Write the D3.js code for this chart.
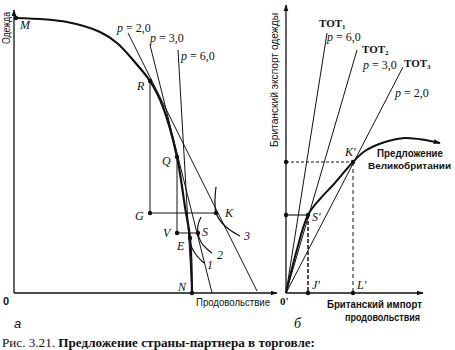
<!DOCTYPE html>
<html lang="ru">
<head>
<meta charset="UTF-8">
<title>Рис. 3.21. Предложение страны-партнера в торговле</title>
<style>
  body { margin: 0; background: #fff; }
  svg text { fill: #111; }
  .pt { font-family: "Liberation Serif", serif; font-style: italic; font-size: 12px; }
  .ax { font-family: "Liberation Sans", Arial, sans-serif; font-size: 10px; }
  .pl { font-family: "Liberation Serif", serif; font-size: 12px; }
</style>
</head>
<body>
<svg width="455" height="350"></svg>
<script src="https://cdn.jsdelivr.net/npm/d3@7/dist/d3.min.js"></script>
<script>
// ---- panel a (units: food along x, clothing along y) ----
var ppf = [[0.2,27.5],[5.3,27.1],[8.6,26.1],[10.3,25.0],[11.9,23.3],[13.6,21.2],
           [14.9,18.6],[16.3,13.6],[17.1,8.6],[17.6,5.5],[17.8,0]];
var priceLines = [
  {p: "2,0", from: [11.4, 26.0], to: [24.3, 0.2]},
  {p: "3,0", from: [13.6, 24.8], to: [19.8, 0]},
  {p: "6,0", from: [16.4, 24.3], to: [17.8, 0]}
];
var pointsA = [
  {name: "M", x: 0.2, y: 27.5}, {name: "R", x: 13.6, y: 21.2}, {name: "Q", x: 16.3, y: 13.6},
  {name: "G", x: 13.6, y: 8.0}, {name: "K", x: 20.2, y: 8.0}, {name: "V", x: 16.3, y: 6.0},
  {name: "S", x: 18.4, y: 6.0}, {name: "E", x: 17.6, y: 5.5}, {name: "N", x: 17.8, y: 0}
];
var indiff = [
  {name: "1", pts: [[17.5,5.5],[17.8,4.5],[18.3,3.7],[19.0,3.0]]},
  {name: "2", pts: [[18.7,7.6],[18.4,6.8],[18.4,6.0],[18.7,5.1],[19.3,4.4],[19.8,4.0]]},
  {name: "3", pts: [[20.2,10.6],[20.1,9.3],[20.2,8.0],[20.8,7.0],[21.6,6.3],[22.6,5.7]]}
];

// ---- panel б (units: British food imports along x, clothing exports along y) ----
var totLines = [
  {sub: "1", p: "6,0", end: [4.1, 26.0]},
  {sub: "2", p: "3,0", end: [7.1, 24.3]},
  {sub: "3", p: "2,0", end: [11.7, 22.6]}
];
var offer = [[0,0],[1.0,4.0],[2.2,7.8],[3.4,9.4],[4.8,10.9],[6.7,13.1],[7.9,14.2],
             [9.9,15.1],[11.9,15.5],[13.9,15.3],[15.4,15.0]];
var pointsB = [
  {name: "S'", x: 2.2, y: 7.8}, {name: "K'", x: 6.7, y: 13.1},
  {name: "J'", x: 2.2, y: 0}, {name: "L'", x: 6.7, y: 0}
];

var svg = d3.select("svg");

svg.append("defs").append("marker")
    .attr("id", "arr").attr("viewBox", "0 0 10 10")
    .attr("refX", 9).attr("refY", 5)
    .attr("markerWidth", 7).attr("markerHeight", 7)
    .attr("markerUnits", "userSpaceOnUse")
    .attr("orient", "auto")
  .append("path").attr("d", "M0,1.5L10,5L0,8.5Z").attr("fill", "#111");

// scales, 10 px per unit
var xA = d3.scaleLinear().domain([0, 26.3]).range([14, 277]);
var yA = d3.scaleLinear().domain([0, 28.3]).range([293, 10]);
var xB = d3.scaleLinear().domain([0, 13.7]).range([286, 423]);
var yB = d3.scaleLinear().domain([0, 28.8]).range([293, 5]);

var gA = svg.append("g"), gB = svg.append("g");
var stroke = "#111";

function seg(g, x1, y1, x2, y2, w, dash) {
  return g.append("line").attr("x1", x1).attr("y1", y1).attr("x2", x2).attr("y2", y2)
    .attr("stroke", stroke).attr("stroke-width", w || 1)
    .attr("stroke-dasharray", dash || null);
}
// squeeze sans labels to the narrow width they have in the book
function label(g, txt, x, y, len, bold) {
  return g.append("text").attr("class", "ax").attr("x", x).attr("y", y)
    .attr("textLength", len).attr("lengthAdjust", "spacingAndGlyphs")
    .style("font-weight", bold ? "bold" : null).text(txt);
}

// ---- axes a ----
seg(gA, xA(0), yA(0), xA(0), yA(28.3), 1.3).attr("marker-end", "url(#arr)");
seg(gA, xA(0), yA(0), xA(26.3), yA(0), 1.3).attr("marker-end", "url(#arr)");
label(gA, "Одежда", -44, 10, 32).attr("transform", "rotate(-90)");
label(gA, "Продовольствие", 196, 306, 74);
gA.append("text").attr("x", 3).attr("y", 305)
  .style("font", "bold 11px 'Liberation Sans', Arial, sans-serif").text("0");

// price lines
var pOff = {"2,0": [-11, -1], "3,0": [0, -3], "6,0": [3, 10]};
priceLines.forEach(function(d) {
  seg(gA, xA(d.from[0]), yA(d.from[1]), xA(d.to[0]), yA(d.to[1]), 1);
  var t = gA.append("text").attr("class", "pl")
    .attr("x", xA(d.from[0]) + pOff[d.p][0]).attr("y", yA(d.from[1]) + pOff[d.p][1]);
  t.append("tspan").style("font-style", "italic").text("p");
  t.append("tspan").text(" = " + d.p);
});

// trade triangles
var P = {};
pointsA.forEach(function(d) { P[d.name] = d; });
seg(gA, xA(P.R.x), yA(P.R.y), xA(P.G.x), yA(P.G.y), 1);
seg(gA, xA(P.G.x), yA(P.G.y), xA(P.K.x), yA(P.K.y), 1);
seg(gA, xA(P.Q.x), yA(P.Q.y), xA(P.V.x), yA(P.V.y), 1);
seg(gA, xA(P.V.x), yA(P.V.y), xA(P.S.x), yA(P.S.y), 1);

// indifference curves
var lineA = d3.line().x(function(d) { return xA(d[0]); }).y(function(d) { return yA(d[1]); })
  .curve(d3.curveCatmullRom.alpha(0.5));
var icOff = {"1": [3, 6], "2": [5, 6], "3": [4, 4]};
indiff.forEach(function(c) {
  gA.append("path").attr("d", lineA(c.pts)).attr("fill", "none")
    .attr("stroke", stroke).attr("stroke-width", 1.2);
  var last = c.pts[c.pts.length - 1];
  gA.append("text").attr("class", "pt")
    .attr("x", xA(last[0]) + icOff[c.name][0]).attr("y", yA(last[1]) + icOff[c.name][1]).text(c.name);
});

// production possibility frontier
gA.append("path").attr("d", lineA(ppf)).attr("fill", "none")
  .attr("stroke", stroke).attr("stroke-width", 2.2);

var ptOff = {M: [4, 11], R: [-13, 9], Q: [-15, 8], G: [-15, 7], K: [9, 4], V: [-14, 4],
             S: [4, 3], E: [-13, 12], N: [-14, -2]};
gA.selectAll("circle").data(pointsA).enter().append("circle")
  .attr("cx", function(d) { return xA(d.x); }).attr("cy", function(d) { return yA(d.y); })
  .attr("r", 2.2).attr("fill", stroke);
gA.selectAll("text.lbl").data(pointsA).enter().append("text").attr("class", "pt lbl")
  .attr("x", function(d) { return xA(d.x) + ptOff[d.name][0]; })
  .attr("y", function(d) { return yA(d.y) + ptOff[d.name][1]; })
  .text(function(d) { return d.name; });

// ---- axes б ----
seg(gB, xB(0), yB(0), xB(0), yB(28.8), 1.3).attr("marker-end", "url(#arr)");
seg(gB, xB(0), yB(0), xB(13.7), yB(0), 1.3).attr("marker-end", "url(#arr)");
label(gB, "Британский экспорт одежды", -147, 278, 134).attr("transform", "rotate(-90)");
label(gB, "Британский импорт", 327, 308, 95, true);
label(gB, "продовольствия", 345, 321, 75, true);
gB.append("text").attr("class", "pt").attr("x", 280).attr("y", 305)
  .style("font-style", "normal").style("font-weight", "bold").style("font-size", "11px").text("0'");

// terms of trade lines
var tOff = [[[-8, -6], [0, 8]], [[5, 3], [6, 19]], [[1, 0], [-8, 30]]];
totLines.forEach(function(d, i) {
  seg(gB, xB(0), yB(0), xB(d.end[0]), yB(d.end[1]), 1);
  var ex = xB(d.end[0]), ey = yB(d.end[1]);
  var t = gB.append("text").attr("class", "pl").style("font-weight", "bold").style("font-size", "11px")
    .attr("x", ex + tOff[i][0][0]).attr("y", ey + tOff[i][0][1]);
  t.append("tspan").text("ТОТ");
  t.append("tspan").attr("dy", 2).style("font-size", "7px").text(d.sub);
  var q = gB.append("text").attr("class", "pl")
    .attr("x", ex + tOff[i][1][0]).attr("y", ey + tOff[i][1][1]);
  q.append("tspan").style("font-style", "italic").text("p");
  q.append("tspan").text(" = " + d.p);
});

// guide lines
var Q = {};
pointsB.forEach(function(d) { Q[d.name] = d; });
seg(gB, xB(0), yB(Q["K'"].y), xB(Q["K'"].x), yB(Q["K'"].y), 1, "3,2");
seg(gB, xB(0), yB(Q["S'"].y), xB(Q["S'"].x), yB(Q["S'"].y), 1.1);
seg(gB, xB(Q["K'"].x), yB(Q["K'"].y), xB(Q["L'"].x), yB(0), 1, "4,3");
seg(gB, xB(Q["S'"].x), yB(Q["S'"].y), xB(Q["J'"].x), yB(0), 1.5, "4,2");

// British offer curve
var lineB = d3.line().x(function(d) { return xB(d[0]); }).y(function(d) { return yB(d[1]); })
  .curve(d3.curveCatmullRom.alpha(0.5));
gB.append("path").attr("d", lineB(offer)).attr("fill", "none")
  .attr("stroke", stroke).attr("stroke-width", 2).attr("marker-end", "url(#arr)");
label(gB, "Предложение", 377, 157, 66, true);
label(gB, "Великобритании", 368, 169, 83, true).style("font-size", "9.5px");

var dots = pointsB.concat([{x: 0, y: Q["K'"].y}, {x: 0, y: Q["S'"].y}]);
gB.selectAll("circle").data(dots).enter().append("circle")
  .attr("cx", function(d) { return xB(d.x); }).attr("cy", function(d) { return yB(d.y); })
  .attr("r", 2.2).attr("fill", stroke);
var pbOff = {"S'": [4, 6], "K'": [-8, -6], "J'": [4, -4], "L'": [4, -4]};
gB.selectAll("text.lbl").data(pointsB).enter().append("text").attr("class", "pt lbl")
  .attr("x", function(d) { return xB(d.x) + pbOff[d.name][0]; })
  .attr("y", function(d) { return yB(d.y) + pbOff[d.name][1]; })
  .text(function(d) { return d.name; });

// panel letters and caption
svg.append("text").attr("class", "pt").attr("x", 14).attr("y", 328)
  .style("font-family", "'Liberation Sans', Arial, sans-serif").style("font-size", "13px").text("а");
svg.append("text").attr("class", "pt").attr("x", 294).attr("y", 328)
  .style("font-size", "14px").text("б");
var cap = svg.append("text").attr("x", 2).attr("y", 347)
  .attr("textLength", 313).attr("lengthAdjust", "spacingAndGlyphs")
  .style("font", "13px 'Liberation Serif', serif");
cap.append("tspan").text("Рис. 3.21. ");
cap.append("tspan").style("font-weight", "bold").text("Предложение страны-партнера в торговле:");
</script>
</body>
</html>
